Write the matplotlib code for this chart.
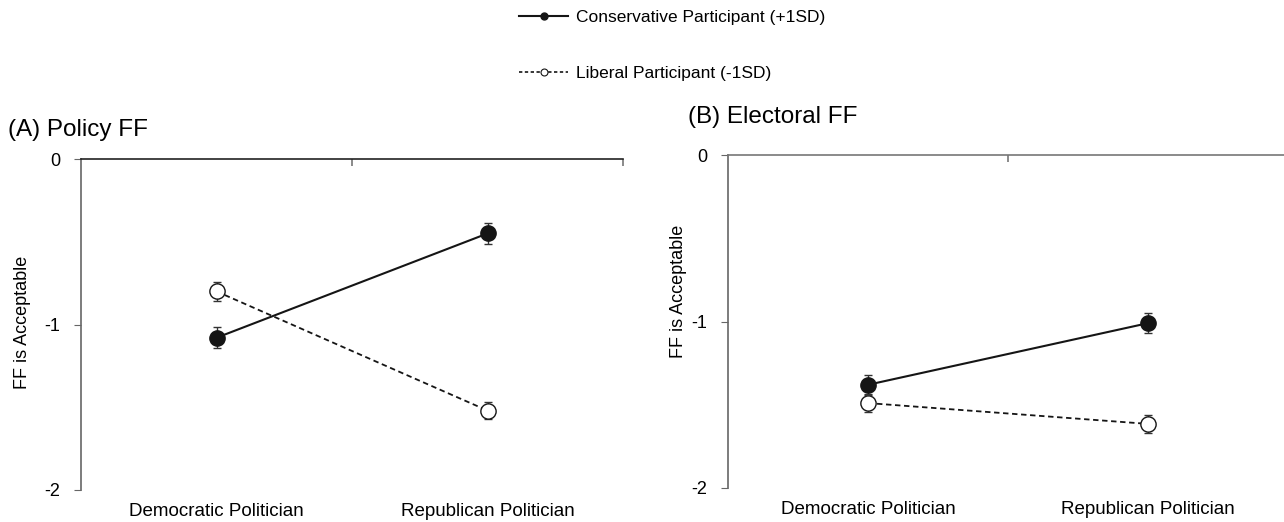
import matplotlib
matplotlib.use('Agg')
import matplotlib.pyplot as plt
from matplotlib.lines import Line2D

plt.rcParams['font.family'] = ['Liberation Sans', 'DejaVu Sans']
plt.rcParams['axes.unicode_minus'] = False

# data
categories = ['Democratic Politician', 'Republican Politician']
cat_x = [0.5, 1.5]

policy_cons = [-1.08, -0.45]
policy_cons_err = [0.063, 0.062]
policy_lib = [-0.80, -1.52]
policy_lib_err = [0.055, 0.054]

elect_cons = [-1.38, -1.01]
elect_cons_err = [0.059, 0.062]
elect_lib = [-1.49, -1.615]
elect_lib_err = [0.054, 0.056]

series_labels = ['Conservative Participant (+1SD)', 'Liberal Participant (-1SD)']
panel_titles = ['(A) Policy FF', '(B) Electoral FF']

W, H = 1284, 522
fig = plt.figure(figsize=(W / 100, H / 100), dpi=100)


def px(l, t, r, b):
    return [l / W, 1 - b / H, (r - l) / W, (b - t) / H]


def panel(ax, cons, cons_err, lib, lib_err, top_col, lab_xy):
    ax.errorbar(cat_x, lib, yerr=lib_err, color='#151515', ls=(0, (3, 2)), lw=1.3,
                marker='o', ms=11, mfc='white', mec='#151515', mew=1.0,
                capsize=3, elinewidth=1.0, ecolor='#333333', zorder=3)
    ax.errorbar(cat_x, cons, yerr=cons_err, color='#151515', ls='-', lw=1.5,
                marker='o', ms=11, mfc='#151515', mec='#151515',
                capsize=3, elinewidth=1.0, ecolor='#333333', zorder=4)
    ax.set_xlim(0, 2)
    ax.set_ylim(-2, 0)
    ax.spines['right'].set_visible(False)
    ax.spines['bottom'].set_visible(False)
    ax.spines['left'].set_color('#666666')
    ax.spines['left'].set_linewidth(1.2)
    ax.spines['top'].set_color(top_col)
    ax.spines['top'].set_linewidth(1.2)
    ax.set_yticks([-2, -1, 0])
    ax.set_yticklabels(['-2', '-1', '0'])
    ax.tick_params(axis='y', direction='out', length=5, color='#666666',
                   labelsize=13, pad=10)
    ax.set_xticks(cat_x)
    ax.set_xticklabels(categories)
    ax.tick_params(axis='x', which='major', length=0, labelsize=13.5, pad=9)
    ax.set_xticks([1, 2], minor=True)
    ax.tick_params(axis='x', which='minor', top=True, bottom=False,
                   direction='in', length=5, color='#777777', width=1.2)
    ax.set_ylabel('FF is Acceptable', fontsize=13)
    ax.yaxis.set_label_coords(*lab_xy)
    ax.patch.set_alpha(0)


axA = fig.add_axes(px(81, 159, 623, 490))
panel(axA, policy_cons, policy_cons_err, policy_lib, policy_lib_err, '#222222',
      (-0.093, 0.505))
axB = fig.add_axes(px(728, 155, 1288, 488))
panel(axB, elect_cons, elect_cons_err, elect_lib, elect_lib_err, '#777777',
      (-0.074, 0.59))
for sp in axB.spines.values():
    sp.set_clip_on(False)

fig.text(8 / W, 1 - 130 / H, panel_titles[0], fontsize=17.5, va='center', ha='left')
fig.text(688 / W, 1 - 117 / H, panel_titles[1], fontsize=17.5, va='center', ha='left')

handles = [
    Line2D([], [], color='#151515', ls='-', lw=1.5, marker='o', ms=5,
           mfc='#151515', mec='#151515'),
    Line2D([], [], color='#151515', ls=(0, (2, 1.5)), lw=1.2, marker='o', ms=5,
           mfc='white', mec='#151515', mew=0.8),
]
fig.legend(handles, series_labels, loc='upper left', bbox_to_anchor=(516 / W, 1 - 6 / H),
           frameon=False, fontsize=12.5, handlelength=2.8, handletextpad=0.45,
           labelspacing=2.4, borderpad=0.2, borderaxespad=0)

fig.savefig('out.png', dpi=100)
